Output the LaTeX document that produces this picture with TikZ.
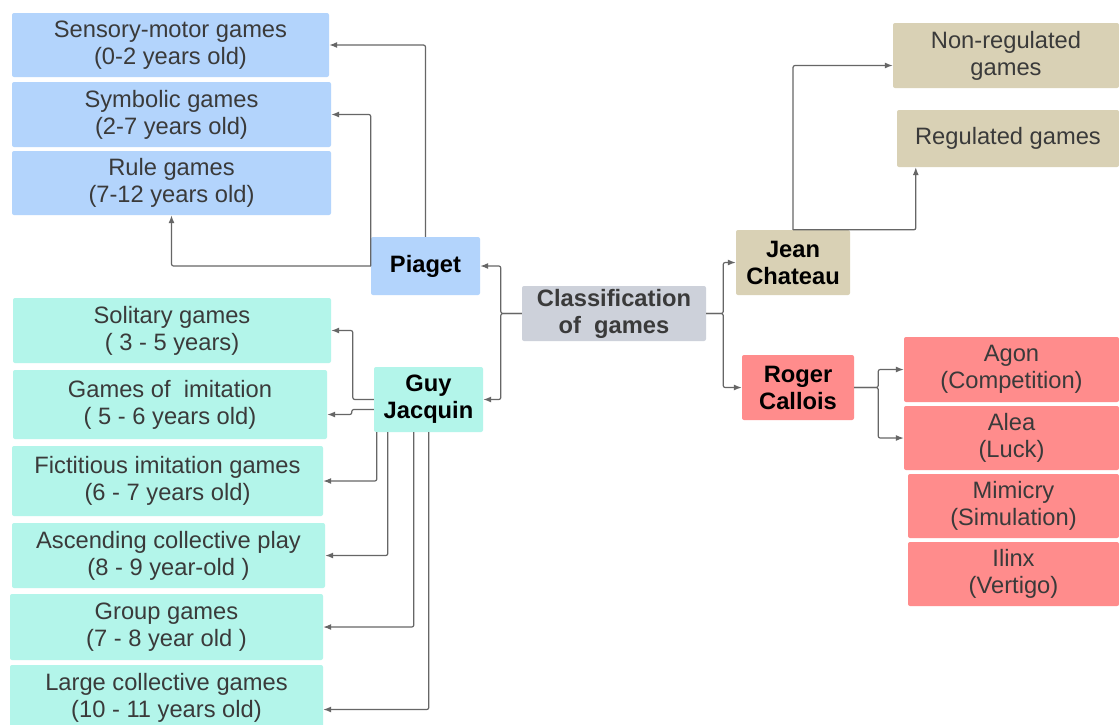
\documentclass[tikz,border=0pt]{standalone}
\usepackage{fontspec}
\setmainfont{Liberation Sans}
\usetikzlibrary{positioning,calc,arrows.meta}

\definecolor{piagetblue}{HTML}{B3D4FC}
\definecolor{guymint}{HTML}{B3F5EA}
\definecolor{jeantan}{HTML}{D9D1B5}
\definecolor{rogerred}{HTML}{FF8C8C}
\definecolor{rootgray}{HTML}{CDD1DA}
\definecolor{textgray}{HTML}{3A3A3A}
\definecolor{linegray}{HTML}{666666}

\begin{document}
\begin{tikzpicture}[x=1pt,y=-1pt,
    box/.style={rectangle,rounded corners=2pt,inner sep=0pt,align=center,
      text=textgray,font=\fontsize{23.7}{27}\selectfont},
    head/.style={box,text=black,font=\fontsize{23.7}{27}\selectfont\bfseries},
    link/.style={draw=linegray,line width=1.2pt,rounded corners=2pt,
      -{Latex[length=8pt,width=6pt]}}]
    \fill[white] (0,0) rectangle (1119,724);
    \useasboundingbox (0,0) rectangle (1119,724);

    % root
    \node[head,fill=rootgray,text=textgray,minimum width=184pt,minimum height=55pt] (class) at (614,313.5) {Classification\\of~~games};

    % Piaget
    \node[head,fill=piagetblue,minimum width=109pt,minimum height=58pt] (piaget) at (425.5,266) {Piaget};
    \node[box,fill=piagetblue,minimum width=317pt,minimum height=64pt] (sensory) at (170.5,45) {Sensory-motor games\\(0-2 years old)};
    \node[box,fill=piagetblue,minimum width=319pt,minimum height=65pt] (symbolic) at (171.5,114.5) {Symbolic games\\(2-7 years old)};
    \node[box,fill=piagetblue,minimum width=319pt,minimum height=64pt] (rule) at (171.5,183) {Rule games\\(7-12 years old)};

    % Guy Jacquin
    \node[head,fill=guymint,minimum width=109pt,minimum height=65pt] (guy) at (428.5,399.5) {Guy\\Jacquin};
    \node[box,fill=guymint,minimum width=318pt,minimum height=65pt] (solitary) at (172,330.5) {Solitary games\\( 3 - 5 years)};
    \node[box,fill=guymint,minimum width=314pt,minimum height=69pt] (imitation) at (170,404.5) {Games of~~imitation\\( 5 - 6 years old)};
    \node[box,fill=guymint,minimum width=311pt,minimum height=70pt] (fictitious) at (167.5,481) {Fictitious imitation games\\(6 - 7 years old)};
    \node[box,fill=guymint,minimum width=313pt,minimum height=65pt] (ascending) at (168.5,555.5) {Ascending collective play\\(8 - 9 year-old )};
    \node[box,fill=guymint,minimum width=313pt,minimum height=66pt] (group) at (166.5,627) {Group games\\(7 - 8 year old )};
    \node[box,fill=guymint,minimum width=313pt,minimum height=65pt] (large) at (166.5,697.5) {Large collective games\\(10 - 11 years old)};

    % Jean Chateau
    \node[head,fill=jeantan,minimum width=114pt,minimum height=65pt] (jean) at (793,262.5) {Jean\\Chateau};
    \node[box,fill=jeantan,minimum width=226pt,minimum height=65pt] (nonreg) at (1006,55.5) {Non-regulated\\games};
    \node[box,fill=jeantan,minimum width=222pt,minimum height=57pt] (regulated) at (1008,138.5) {Regulated games};

    % Roger Callois
    \node[head,fill=rogerred,minimum width=112pt,minimum height=65pt] (roger) at (798,387.5) {Roger\\Callois};
    \node[box,fill=rogerred,minimum width=215pt,minimum height=65pt] (agon) at (1011.5,369.5) {Agon\\(Competition)};
    \node[box,fill=rogerred,minimum width=215pt,minimum height=64pt] (alea) at (1011.5,438) {Alea\\(Luck)};
    \node[box,fill=rogerred,minimum width=211pt,minimum height=64pt] (mimicry) at (1013.5,506) {Mimicry\\(Simulation)};
    \node[box,fill=rogerred,minimum width=211pt,minimum height=64pt] (ilinx) at (1013.5,574) {Ilinx\\(Vertigo)};

    % connectors
    \draw[link] (class.west) -- ++(-21,0) |- (piaget.east);
    \draw[link] (class.west) -- ++(-21,0) |- (guy.east);
    \draw[link] (class.east) -- ++(17,0) |- (jean.west);
    \draw[link] (class.east) -- ++(17,0) |- (roger.west);

    \draw[link] (piaget.north) |- (sensory.east);
    \draw[link] (piaget.west) |- (symbolic.east);
    \draw[link] (piaget.west) -| (rule.south);

    \draw[link] (guy.west) -- ++(-21,0) |- (solitary.east);
    \draw[link] ($(guy.west)+(0,10)$) -- ++(-22,0) |- ($(imitation.east)+(0,10)$);
    \draw[link] ($(guy.south west)+(3,0)$) |- (fictitious.east);
    \draw[link] ($(guy.south west)+(14,0)$) |- (ascending.east);
    \draw[link] ($(guy.south west)+(40,0)$) |- (group.east);
    \draw[link] ($(guy.south west)+(55,0)$) |- ($(large.east)+(0,12)$);

    \draw[link] (jean.north) |- ($(nonreg.west)+(0,10)$);
    \draw[link] (jean.north) -| ($(regulated.south west)+(19,0)$);

    \draw[link] (roger.east) -- ++(24,0) |- (agon.west);
    \draw[link] (roger.east) -- ++(24,0) |- (alea.west);
\end{tikzpicture}
\end{document}
